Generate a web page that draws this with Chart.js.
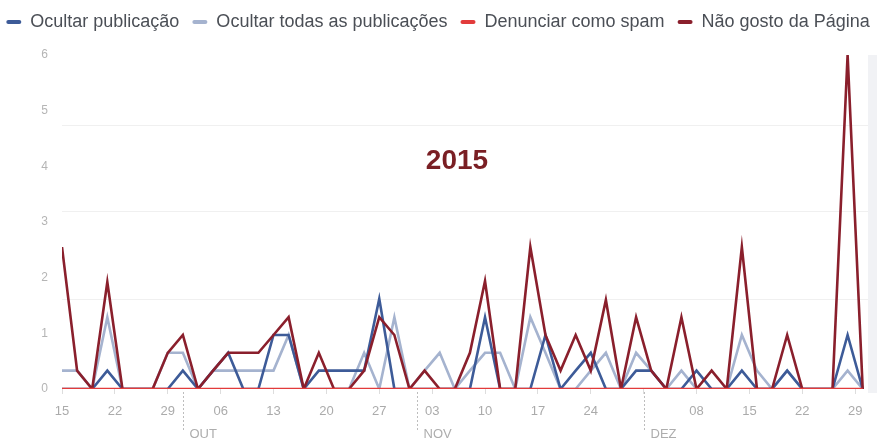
<!DOCTYPE html>
<html>
<head>
<meta charset="utf-8">
<script src="https://cdn.jsdelivr.net/npm/chart.js@4.4.1/dist/chart.umd.min.js"></script>
<style>
  html, body { margin: 0; padding: 0; background: #fff; }
  #wrap { width: 877px; height: 438px; }
</style>
</head>
<body>
<div id="wrap"><canvas id="chart" width="877" height="438"></canvas></div>
<script>
// --- Dados (leitura do gráfico, um ponto a cada 2 dias a partir de 15/09/2015) ---
const days = [0, 2, 4, 6, 8, 10, 12, 14, 16, 18, 20, 22, 24, 26, 28, 30, 32, 34,
              36, 38, 40, 42, 44, 46, 48, 50, 52, 54, 56, 58, 60, 62, 64, 66, 68, 70,
              72, 74, 76, 78, 80, 82, 84, 86, 88, 90, 92, 94, 96, 98, 100, 102, 104, 106];

const ocultarPublicacao = [0, 0, 0, 0.33, 0, 0, 0, 0, 0.33, 0, 0.33, 0.65, 0, 0, 0.97, 0.97, 0, 0.33,
                           0.33, 0.33, 0.33, 1.62, 0, 0, 0, 0, 0, 0, 1.29, 0, 0, 0, 0.97, 0, 0.33, 0.65,
                           0, 0, 0.33, 0.33, 0, 0, 0.33, 0, 0, 0.33, 0, 0, 0.33, 0, 0, 0, 0.97, 0];

const ocultarTodas = [0.33, 0.33, 0, 1.29, 0, 0, 0, 0.65, 0.65, 0, 0.33, 0.33, 0.33, 0.33, 0.33, 0.97, 0, 0,
                      0, 0, 0.65, 0, 1.29, 0, 0.33, 0.65, 0, 0.33, 0.65, 0.65, 0, 1.29, 0.65, 0, 0, 0.33,
                      0.65, 0, 0.65, 0.33, 0, 0.33, 0, 0, 0, 0.97, 0.33, 0, 0.33, 0, 0, 0, 0.33, 0];

const denunciarSpam = [0, 0, 0, 0, 0, 0, 0, 0, 0, 0, 0, 0, 0, 0, 0, 0, 0, 0,
                       0, 0, 0, 0, 0, 0, 0, 0, 0, 0, 0, 0, 0, 0, 0, 0, 0, 0,
                       0, 0, 0, 0, 0, 0, 0, 0, 0, 0, 0, 0, 0, 0, 0, 0, 0, 0];

const naoGosto = [2.55, 0.33, 0, 1.92, 0, 0, 0, 0.65, 0.97, 0, 0.33, 0.65, 0.65, 0.65, 0.97, 1.29, 0, 0.65,
                  0, 0, 0.33, 1.29, 0.97, 0, 0.33, 0, 0, 0.65, 1.94, 0, 0, 2.55, 0.97, 0.33, 0.97, 0.33,
                  1.6, 0, 1.29, 0.33, 0, 1.29, 0, 0.33, 0, 2.55, 0, 0, 0.97, 0, 0, 0, 6, 0];

// eixo x: um traço por semana
const tickDays = [0, 7, 14, 21, 28, 35, 42, 49, 56, 63, 70, 77, 84, 91, 98, 105];
const tickLabels = ['15', '22', '29', '06', '13', '20', '27', '03', '10', '17', '24', '', '08', '15', '22', '29'];
const monthDays = [16, 47, 77];
const monthNames = ['OUT', 'NOV', 'DEZ'];
const gridValues = [1.6, 3.18, 4.74];

Chart.defaults.font.family = '"Liberation Sans", Arial, sans-serif';

// --- Plugins ---
// legenda numa só linha e com mais espaço por baixo
const legendSpace = {
    id: 'legendSpace',
    beforeInit(chart) {
        const fit = chart.legend.fit;
        chart.legend.fit = function () {
            const mw = this.maxWidth;
            this.maxWidth = mw + 200;
            fit.bind(chart.legend)();
            this.maxWidth = mw;
            this.width = mw;
            this.height += 14;
        };
    },
    afterLayout(chart) {
        const l = chart.legend;
        l.left -= 96;
        l.right += 104;
        l.width += 200;
    }
};

const decoracoes = {
    id: 'decoracoes',
    beforeDraw(chart) {
        const { ctx, chartArea } = chart;
        // faixa cinza à direita
        ctx.save();
        ctx.fillStyle = '#f1f2f5';
        ctx.fillRect(chartArea.right, chartArea.top, chart.width - chartArea.right, chartArea.bottom - chartArea.top + 4);
        ctx.restore();
    },
    afterDraw(chart) {
        const { ctx, chartArea } = chart;
        const xScale = chart.scales.x;
        ctx.save();
        // meses
        ctx.strokeStyle = '#bdbdbd';
        ctx.lineWidth = 1;
        ctx.setLineDash([2, 2]);
        ctx.fillStyle = '#adadad';
        ctx.font = '13px "Liberation Sans", Arial, sans-serif';
        ctx.textAlign = 'left';
        ctx.textBaseline = 'middle';
        monthDays.forEach((d, i) => {
            const x = Math.round(xScale.getPixelForValue(d)) + 0.5;
            ctx.beginPath();
            ctx.moveTo(x, chartArea.bottom + 3);
            ctx.lineTo(x, chartArea.bottom + 42);
            ctx.stroke();
            ctx.fillText(monthNames[i], x + 6, chartArea.bottom + 45);
        });
        // título
        ctx.setLineDash([]);
        ctx.fillStyle = '#7a1f24';
        ctx.font = 'bold 28px "Liberation Sans", Arial, sans-serif';
        ctx.textAlign = 'center';
        ctx.fillText('2015', 457, 161);
        ctx.restore();
    }
};

function serie(label, data, color, order) {
    return {
        label: label,
        data: data.map((v, i) => ({ x: days[i], y: v })),
        borderColor: color,
        backgroundColor: color,
        borderWidth: 2.6,
        pointRadius: 0,
        tension: 0,
        fill: false,
        order: order
    };
}

const ctx = document.getElementById('chart').getContext('2d');
const chart = new Chart(ctx, {
    type: 'line',
    data: {
        datasets: [
            serie('Ocultar publicação', ocultarPublicacao, '#3d5b98', 2),
            serie('Ocultar todas as publicações', ocultarTodas, '#a5b3cf', 3),
            serie('Denunciar como spam', denunciarSpam, '#e23b3b', 0),
            serie('Não gosto da Página', naoGosto, '#8a1f2c', 1)
        ]
    },
    options: {
        responsive: false,
        animation: false,
        devicePixelRatio: 1,
        layout: { padding: { left: 0, right: 9, top: 0, bottom: 0 } },
        plugins: {
            tooltip: { enabled: false },
            legend: {
                position: 'top',
                align: 'center',
                labels: {
                    color: '#4b4f56',
                    font: { size: 18 },
                    boxWidth: 15,
                    boxHeight: 4,
                    padding: 13,
                    useBorderRadius: true,
                    borderRadius: 2,
                    sort: (a, b) => a.datasetIndex - b.datasetIndex,
                    generateLabels(chart) {
                        return Chart.defaults.plugins.legend.labels.generateLabels(chart)
                            .map(item => Object.assign(item, { lineWidth: 0 }));
                    }
                }
            }
        },
        scales: {
            x: {
                type: 'linear',
                min: 0,
                max: 106.7,
                afterBuildTicks: (scale) => { scale.ticks = tickDays.map(v => ({ value: v })); },
                afterFit: (scale) => { scale.height = 49; },
                ticks: {
                    callback: (value, index) => tickLabels[index],
                    color: '#ababab',
                    font: { size: 13 },
                    maxRotation: 0,
                    autoSkip: false,
                    padding: 10
                },
                grid: { drawOnChartArea: false, tickLength: 5, color: '#dddddd' },
                border: { display: false }
            },
            y: {
                min: 0,
                max: 6,
                afterFit: (scale) => { scale.width = 62; },
                ticks: { stepSize: 1, color: '#b5b5b5', font: { size: 12 }, padding: 6 },
                grid: { display: false },
                border: { display: false }
            },
            yGrid: {
                position: 'right',
                min: 0,
                max: 6,
                afterBuildTicks: (scale) => { scale.ticks = gridValues.map(v => ({ value: v })); },
                afterFit: (scale) => { scale.width = 0; },
                ticks: { display: false },
                grid: { color: '#f0f0f0', drawTicks: false },
                border: { display: false }
            }
        }
    },
    plugins: [legendSpace, decoracoes]
});
</script>
</body>
</html>
